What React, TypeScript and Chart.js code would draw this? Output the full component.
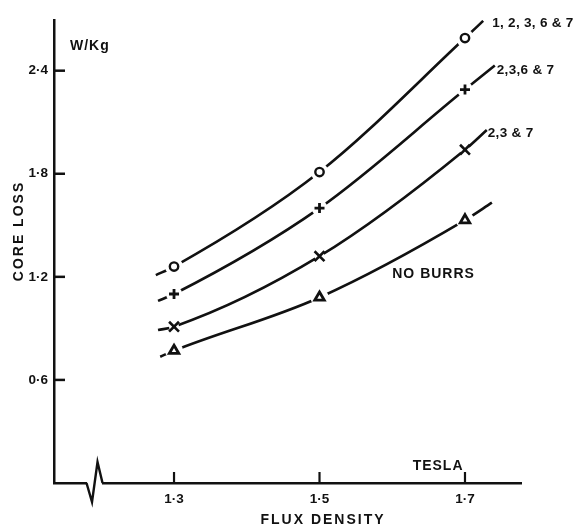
import React, { useEffect, useRef } from "react";
import { Chart, registerables } from "chart.js";

Chart.register(...registerables);

// ---------- data ----------
const fluxTicks = [1.3, 1.5, 1.7];
const fluxTickLabels = ["1·3", "1·5", "1·7"];
const lossTicks = [0.6, 1.2, 1.8, 2.4];
const lossTickLabels = ["0·6", "1·2", "1·8", "2·4"];

const seriesNames = ["1, 2, 3, 6 & 7", "2,3,6 & 7", "2,3 & 7", "NO BURRS"];

// measured points (W/kg) at the flux densities above
const markerFlux = [1.3, 1.5, 1.7];
const loss12367 = [1.26, 1.81, 2.59];
const loss2367 = [1.1, 1.6, 2.29];
const loss237 = [0.91, 1.32, 1.94];
const lossNoBurrs = [0.77, 1.08, 1.53];

// ends of the drawn curves (flux, loss)
const curveStartFlux = [1.275, 1.278, 1.278, 1.281];
const curveStartLoss = [1.21, 1.06, 0.89, 0.735];
const curveEndFlux = [1.725, 1.741, 1.73, 1.737];
const curveEndLoss = [2.69, 2.43, 2.055, 1.632];

const xRange = [1.135, 1.777];
const yRange = [0, 2.695];

const axisTitleX = "FLUX DENSITY";
const axisTitleY = "CORE LOSS";
const unitY = "W/Kg";
const unitX = "TESLA";

// ---------- style ----------
const INK = "#111111";
const FONT = "'Liberation Sans', Arial, sans-serif";
const markerStyles = ["circle", "cross", "crossRot", "triangle"];
const markerRadii = [4.2, 5, 7, 5.5];
const markerBorders = [2.4, 2.8, 2.6, 2.8];
const haloRadii = [9, 8, 5, 9];
const labelOffsets = [
  [9, 2],
  [2, 5],
  [1, 3],
];

const allLoss = [loss12367, loss2367, loss237, lossNoBurrs];

function curvePoints(i: number) {
  const pts = [{ x: curveStartFlux[i], y: curveStartLoss[i] }];
  markerFlux.forEach((f, k) => pts.push({ x: f, y: allLoss[i][k] }));
  pts.push({ x: curveEndFlux[i], y: curveEndLoss[i] });
  return pts;
}

function markerPoints(i: number) {
  return markerFlux.map((f, k) => ({ x: f, y: allLoss[i][k] }));
}

const decorPlugin = {
  id: "decor",
  afterDraw(chart: any) {
    const { ctx } = chart;
    const x = chart.scales.x;
    const y = chart.scales.y;
    ctx.save();
    ctx.strokeStyle = INK;
    ctx.fillStyle = INK;
    ctx.lineCap = "butt";

    // inward tick marks
    ctx.lineWidth = 2.5;
    lossTicks.forEach((v) => {
      const py = y.getPixelForValue(v);
      ctx.beginPath();
      ctx.moveTo(x.left, py);
      ctx.lineTo(x.left + 11, py);
      ctx.stroke();
    });
    ctx.lineWidth = 2.2;
    fluxTicks.forEach((v) => {
      const px = x.getPixelForValue(v);
      ctx.beginPath();
      ctx.moveTo(px, y.bottom);
      ctx.lineTo(px, y.bottom - 11);
      ctx.stroke();
    });

    // axis break on the flux axis
    const bx = x.getPixelForValue(1.1907);
    const by = y.bottom;
    ctx.fillStyle = "#ffffff";
    ctx.fillRect(bx - 7.5, by - 3, 15, 6);
    ctx.fillStyle = INK;
    ctx.lineWidth = 2.4;
    ctx.lineJoin = "miter";
    ctx.beginPath();
    ctx.moveTo(bx - 8, by);
    ctx.lineTo(bx - 2.5, by + 19);
    ctx.lineTo(bx + 3, by - 21);
    ctx.lineTo(bx + 8, by);
    ctx.stroke();

    // curve labels
    ctx.font = `bold 13.5px ${FONT}`;
    (ctx as any).letterSpacing = "0.3px";
    ctx.textAlign = "left";
    ctx.textBaseline = "middle";
    for (let i = 0; i < 3; i++) {
      const px = x.getPixelForValue(curveEndFlux[i]) + labelOffsets[i][0];
      const py = y.getPixelForValue(curveEndLoss[i]) + labelOffsets[i][1];
      ctx.fillText(seriesNames[i], px, py);
    }
    (ctx as any).letterSpacing = "1px";
    ctx.font = `bold 14px ${FONT}`;
    ctx.fillText(seriesNames[3], x.getPixelForValue(1.6), y.getPixelForValue(1.217));

    // units
    ctx.fillText(unitY, x.left + 16, y.getPixelForValue(2.54));
    ctx.textAlign = "center";
    ctx.fillText(unitX, x.getPixelForValue(1.663), y.getPixelForValue(0.099));

    // axis titles
    (ctx as any).letterSpacing = "2px";
    ctx.font = `bold 14px ${FONT}`;
    ctx.fillText(axisTitleX, 323, 520);
    ctx.translate(19, 231);
    ctx.rotate(-Math.PI / 2);
    ctx.fillText(axisTitleY, 0, 0);
    ctx.restore();
  },
};

export default function App() {
  const ref = useRef<HTMLCanvasElement | null>(null);

  useEffect(() => {
    document.body.style.margin = "0";
    const canvas = ref.current;
    if (!canvas) return;

    const datasets: any[] = [];
    for (let i = 0; i < 4; i++) {
      datasets.push({
        label: seriesNames[i],
        data: curvePoints(i),
        showLine: true,
        borderColor: INK,
        borderWidth: 2.6,
        pointRadius: 0,
        cubicInterpolationMode: "monotone",
        order: 3,
      });
    }
    for (let i = 0; i < 4; i++) {
      datasets.push({
        label: seriesNames[i] + " gap",
        data: markerPoints(i),
        showLine: false,
        pointStyle: "circle",
        pointRadius: haloRadii[i],
        pointBackgroundColor: "#ffffff",
        pointBorderWidth: 0,
        pointBorderColor: "#ffffff",
        order: 2,
      });
    }
    for (let i = 0; i < 4; i++) {
      datasets.push({
        label: seriesNames[i] + " points",
        data: markerPoints(i),
        showLine: false,
        pointStyle: markerStyles[i],
        pointRadius: markerRadii[i],
        pointBackgroundColor: "#ffffff",
        pointBorderColor: INK,
        pointBorderWidth: markerBorders[i],
        order: 1,
      });
    }

    const chart = new Chart(canvas, {
      type: "scatter",
      data: { datasets },
      options: {
        animation: false,
        responsive: false,
        events: [],
        layout: { padding: { left: 0, top: 20, right: 52, bottom: 0 } },
        plugins: { legend: { display: false }, tooltip: { enabled: false } },
        scales: {
          x: {
            type: "linear",
            min: xRange[0],
            max: xRange[1],
            grid: { display: false, drawTicks: false },
            border: { display: true, color: INK, width: 2.5 },
            afterBuildTicks: (scale: any) => {
              scale.ticks = fluxTicks.map((v) => ({ value: v }));
            },
            afterFit: (scale: any) => {
              scale.height = 47;
            },
            ticks: {
              color: INK,
              font: { family: FONT, size: 13.5, weight: "bold" },
              padding: 8,
              maxRotation: 0,
              autoSkip: false,
              callback: (_v: any, idx: number) => fluxTickLabels[idx],
            },
          },
          y: {
            type: "linear",
            min: yRange[0],
            max: yRange[1],
            grid: { display: false, drawTicks: false },
            border: { display: true, color: INK, width: 2.5 },
            afterBuildTicks: (scale: any) => {
              scale.ticks = lossTicks.map((v) => ({ value: v }));
            },
            afterFit: (scale: any) => {
              scale.width = 54;
            },
            ticks: {
              color: INK,
              font: { family: FONT, size: 13.5, weight: "bold" },
              padding: 6,
              autoSkip: false,
              callback: (_v: any, idx: number) => lossTickLabels[idx],
            },
          },
        },
      },
      plugins: [decorPlugin],
    });

    return () => chart.destroy();
  }, []);

  return (
    <div style={{ width: 573, height: 530, background: "#ffffff" }}>
      <canvas ref={ref} width={573} height={530} style={{ display: "block" }} />
    </div>
  );
}
